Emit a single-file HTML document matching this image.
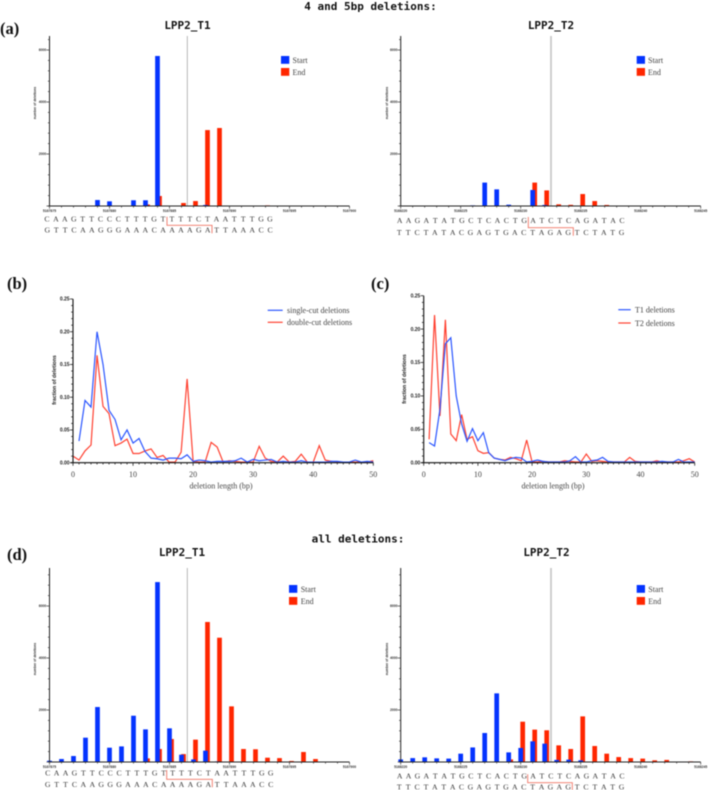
<!DOCTYPE html>
<html lang="en">
<head>
<meta charset="utf-8">
<title>LPP2 deletions</title>
<style>
html,body{margin:0;padding:0;background:#fff;}
body{width:709px;height:790px;overflow:hidden;}
svg{display:block;filter:blur(0.5px);}
.head{font-family:"DejaVu Sans Mono","Liberation Mono",monospace;font-weight:700;font-size:11px;fill:#111;}
.tag{font-family:"Liberation Serif",serif;font-weight:700;font-size:16.5px;fill:#111;}
.leg{font-family:"Liberation Serif",serif;font-size:8px;fill:#444;}
.seq{font-family:"Liberation Serif",serif;font-size:7.8px;fill:#3a3a3a;text-anchor:middle;}
.xl{font-family:"Liberation Serif",serif;font-size:8px;fill:#444;}
.tiny{font-family:"Liberation Sans",sans-serif;font-size:3.4px;fill:#333;font-weight:700;}
.ytick{font-family:"Liberation Sans",sans-serif;font-size:5px;font-weight:700;fill:#222;}
.ytitle{font-family:"Liberation Sans",sans-serif;font-size:5.2px;font-weight:700;fill:#222;}
</style>
</head>
<body>
<svg id="fig" xmlns="http://www.w3.org/2000/svg" width="709" height="790" viewBox="0 0 709 790">
<rect x="0" y="0" width="709" height="790" fill="#fff"/>

<text class="head" x="370.5" y="10" text-anchor="middle">4 and 5bp deletions:</text>
<text class="head" x="358" y="542.5" text-anchor="middle">all deletions:</text>

<text class="head" x="187.5" y="29" text-anchor="middle">LPP2_T1</text>
<text class="head" x="551" y="29" text-anchor="middle">LPP2_T2</text>
<text class="head" x="182" y="556" text-anchor="middle">LPP2_T1</text>
<text class="head" x="546.5" y="556" text-anchor="middle">LPP2_T2</text>

<text class="tag" x="0" y="34">(a)</text>
<text class="tag" x="7" y="289">(b)</text>
<text class="tag" x="371" y="289">(c)</text>
<text class="tag" x="7" y="560">(d)</text>

<g id="chart-a1"></g>
<g id="chart-a2"></g>
<g id="chart-b"></g>
<g id="chart-c"></g>
<g id="chart-d1"></g>
<g id="chart-d2"></g>

<!-- legends -->
<g>
<rect x="281" y="56" width="8.3" height="7.8" fill="#0433ff"/><text class="leg" x="292.5" y="63">Start</text>
<rect x="281" y="68" width="8.3" height="7.8" fill="#ff2600"/><text class="leg" x="292.5" y="75">End</text>
</g>
<g>
<rect x="636.7" y="56" width="8.3" height="7.8" fill="#0433ff"/><text class="leg" x="648" y="63">Start</text>
<rect x="636.7" y="68" width="8.3" height="7.8" fill="#ff2600"/><text class="leg" x="648" y="75">End</text>
</g>
<g>
<rect x="289" y="585" width="8.3" height="7.8" fill="#0433ff"/><text class="leg" x="300.7" y="592">Start</text>
<rect x="289" y="597" width="8.3" height="7.8" fill="#ff2600"/><text class="leg" x="300.7" y="604">End</text>
</g>
<g>
<rect x="636.7" y="585" width="8.3" height="7.8" fill="#0433ff"/><text class="leg" x="648.3" y="592">Start</text>
<rect x="636.7" y="597" width="8.3" height="7.8" fill="#ff2600"/><text class="leg" x="648.3" y="604">End</text>
</g>
<g>
<line x1="267.7" x2="282.7" y1="310.3" y2="310.3" stroke="#2a55ff" stroke-width="1.2"/><text class="leg" x="287" y="313">single-cut deletions</text>
<line x1="267.7" x2="282.7" y1="322.3" y2="322.3" stroke="#ff4030" stroke-width="1.2"/><text class="leg" x="287" y="325">double-cut deletions</text>
</g>
<g>
<line x1="618.3" x2="630.7" y1="309.7" y2="309.7" stroke="#2a55ff" stroke-width="1.2"/><text class="leg" x="635" y="312.5">T1 deletions</text>
<line x1="618.3" x2="630.7" y1="323" y2="323" stroke="#ff4030" stroke-width="1.2"/><text class="leg" x="635" y="325.8">T2 deletions</text>
</g>

<!-- sequences -->
<text class="seq" data-x0="47" data-dx="8.92" y="221.3">CAAGTTCCCTTTGTTTTCTAATTTGG</text>
<text class="seq" data-x0="47.3" data-dx="8.91" y="232.7">GTTCAAGGGAAACAAAAGATTAAACC</text>
<text class="seq" data-x0="399.7" data-dx="8.89" y="223">AAGATATGCTCACTGATCTCAGATAC</text>
<text class="seq" data-x0="399.3" data-dx="8.89" y="235">TTCTATACGAGTGACTAGAGTCTATG</text>
<text class="seq" data-x0="47.7" data-dx="8.92" y="775.6">CAAGTTCCCTTTGTTTTCTAATTTGG</text>
<text class="seq" data-x0="47.7" data-dx="8.92" y="787">GTTCAAGGGAAACAAAAGATTAAACC</text>
<text class="seq" data-x0="399.7" data-dx="8.89" y="778.3">AAGATATGCTCACTGATCTCAGATAC</text>
<text class="seq" data-x0="399.3" data-dx="8.89" y="789.6">TTCTATACGAGTGACTAGAGTCTATG</text>

<!-- target-site brackets -->
<polyline points="167,216.7 167,225.3 212,225.3 212,233.3" fill="none" stroke="#f07565" stroke-width="0.9"/>
<polyline points="528.3,217 528.3,227.7 573.3,227.7 573.3,235.7" fill="none" stroke="#f07565" stroke-width="0.9"/>
<polyline points="166.7,770 166.7,779.3 212.3,779.3 212.3,787.3" fill="none" stroke="#f07565" stroke-width="0.9"/>
<polyline points="527.7,774.3 527.7,782.7 572.3,782.7 572.3,790" fill="none" stroke="#f07565" stroke-width="0.9"/>
</svg>

<script>
// ---- bar chart data (deletion counts per genomic position, index 0-25) ----
const a1Start = [0,0,0,0,230,180,0,220,220,5770,0,0,0,40,0,0,0,0,0,0,0,0,0,0,0,0];
const a1End   = [0,0,0,0,0,0,0,0,60,385,0,115,190,2920,3000,0,0,0,25,0,0,0,0,0,0,0];
const a2Start = [0,0,0,0,0,0,25,900,640,50,0,615,40,0,0,0,0,0,0,0,0,0,0,0,0,0];
const a2End   = [0,0,0,0,0,0,0,0,0,0,0,900,600,65,45,460,190,40,0,15,0,0,0,0,0,0];
const d1Start = [50,115,230,935,2115,550,600,1780,1255,6920,1295,280,100,435,25,0,0,15,0,0,0,0,0,0,0,0];
const d1End   = [0,0,0,0,0,0,0,25,140,500,885,305,860,5385,4780,2140,500,490,165,150,40,385,115,0,15,0];
const d2Start = [100,150,180,140,130,320,560,1115,2640,370,540,795,705,80,90,65,0,15,0,0,0,0,0,0,0,0];
const d2End   = [0,0,0,0,0,0,0,0,0,100,1550,1245,1220,640,500,1755,615,320,190,150,130,65,80,15,25,0];
const barTicksY = [0,2000,4000,6000];
const leftPosLabels  = ["5167875","5167880","5167885","5167890","5167895","5167900"];
const rightPosLabels = ["5168220","5168225","5168230","5168235","5168240","5168245"];

// ---- line chart data (fraction of deletions by deletion length) ----
const lengthTicks = [0,10,20,30,40,50];
const fractionTicks = ["0.00","0.05","0.10","0.15","0.20","0.25"];
const singleCutLengths = [1,2,3,4,5,6,7,8,9,10,11,12,13,14,15,16,17,18,19,20,21,22,23,24,25,26,27,28,29,30,31,32,33,34,35,36,37,38,39,40,41,42,43,44,45,46,47,48,49,50];
const singleCut = [.033,.095,.085,.2,.15,.08,.066,.035,.05,.03,.037,.017,.007,.006,.004,.007,.007,.006,.012,.002,.004,.003,.001,.002,.002,.002,.003,.007,.001,.005,.003,.004,.005,.001,.002,.001,.001,.003,.001,.001,.001,.001,.002,.002,.001,.001,.004,.001,.002,.001];
const doubleCutLengths = [0,1,2,3,4,5,6,7,8,9,10,11,12,13,14,15,16,17,18,19,20,21,22,23,24,25,26,27,28,29,30,31,32,33,34,35,36,37,38,39,40,41,42,43,44,45,46,47,48,49,50];
const doubleCut = [.01,.004,.018,.027,.164,.086,.075,.026,.03,.036,.014,.014,.018,.021,.008,.011,.001,.001,.016,.128,.002,.001,.001,.031,.024,.001,.003,.002,.001,.001,.001,.025,.007,.002,.001,.01,.001,.002,.013,.001,.001,.026,.004,.002,.001,.001,.001,.001,.001,.001,.003];
const t1Deletions = [.03,.025,.08,.178,.187,.1,.058,.032,.051,.033,.045,.015,.007,.005,.003,.006,.008,.007,.001,.002,.004,.002,.001,.001,.001,.001,.003,.009,.001,.001,.003,.004,.008,.002,.001,.001,.001,.001,.001,.001,.001,.001,.001,.002,.001,.001,.005,.001,.001,.001];
const t2Deletions = [.035,.221,.07,.214,.043,.033,.072,.035,.039,.018,.014,.015,.007,.005,.004,.008,.006,.003,.034,.001,.001,.002,.001,.001,.001,.003,.002,.001,.001,.013,.002,.003,.002,.001,.001,.001,.001,.008,.002,.001,.001,.001,.003,.001,.001,.001,.001,.003,.006,.001];

const NS = "http://www.w3.org/2000/svg";
function mk(parent, tag, attrs, txt) {
  const el = document.createElementNS(NS, tag);
  for (const k in attrs) el.setAttribute(k, attrs[k]);
  if (txt !== undefined) el.textContent = txt;
  parent.appendChild(el);
  return el;
}

function drawBarChart(id, c, starts, ends, posLabels) {
  const g = document.getElementById(id);
  const xOf = i => c.x0 + 12 * i;
  const yOf = v => c.base - v * 0.026;
  const barW = 4.7;

  const cut = mk(g, "line", {x1:c.cut, x2:c.cut, y1:c.top, y2:c.base, stroke:c.cutColor, "stroke-width":c.cutW});
  
  

  ends.forEach((v, i) => {
    if (!v) return;
    const r = mk(g, "rect", {x:xOf(i) + 2 - barW/2, y:yOf(v), width:barW, height:c.base - yOf(v), fill:"#ff2600"});
    
    
  });
  starts.forEach((v, i) => {
    if (!v) return;
    const r = mk(g, "rect", {x:xOf(i) - barW/2, y:yOf(v), width:barW, height:c.base - yOf(v), fill:"#0433ff"});
    
    
  });

  const yAxis = mk(g, "line", {x1:c.x0, x2:c.x0, y1:c.top, y2:c.base + 0.5, stroke:"#222", "stroke-width":1});
  
  
  const xAxis = mk(g, "line", {x1:c.x0 - 1.5, x2:xOf(25), y1:c.base, y2:c.base, stroke:"#222", "stroke-width":1});
  
  

  for (let v = 0; yOf(v) >= c.top; v += 400) {
    const major = v % 2000 === 0;
    mk(g, "line", {x1:c.x0 - (major ? 3 : 1.6), x2:c.x0, y1:yOf(v), y2:yOf(v), stroke:"#333", "stroke-width":0.7});
  }
  barTicksY.forEach(v => {
    if (v === 0) return;
    const t = mk(g, "text", {class:"tiny", x:c.x0 - 3.2, y:yOf(v) + 1.2, "text-anchor":"end"}, String(v));
    
    
  });
  for (let i = 0; i <= 25; i++) {
    mk(g, "line", {x1:xOf(i), x2:xOf(i), y1:c.base, y2:c.base + (i % 5 === 0 ? 2.6 : 1.6), stroke:"#333", "stroke-width":0.7});
  }
  posLabels.forEach((lab, k) => {
    const t = mk(g, "text", {class:"tiny", x:xOf(k * 5), y:c.base + 6, "text-anchor":"middle"}, lab);
    
    
  });
  const ty = c.titleY;
  const title = mk(g, "text", {class:"tiny", x:c.titleX, y:ty, "text-anchor":"middle", transform:"rotate(-90 " + c.titleX + " " + ty + ")"}, "number of deletions");
  
  
}

function drawLineChart(id, c, blueXs, blue, redXs, red) {
  const g = document.getElementById(id);
  const xOf = v => c.x0 + (c.x1 - c.x0) * v / 50;
  const yOf = v => c.base - (c.base - c.top) * v / 0.25;

  const pathFor = (xs, ys) => xs.map((x, i) => xOf(x).toFixed(2) + "," + yOf(ys[i]).toFixed(2)).join(" ");
  const redLine = mk(g, "polyline", {points:pathFor(redXs, red), fill:"none", stroke:"#ff4030", "stroke-width":1.2});
  
  
  const blueLine = mk(g, "polyline", {points:pathFor(blueXs, blue), fill:"none", stroke:"#2a55ff", "stroke-width":1.2});
  
  

  const yAxis = mk(g, "line", {x1:c.x0, x2:c.x0, y1:c.top, y2:c.base + 0.5, stroke:"#111", "stroke-width":1.1});
  
  
  const xAxis = mk(g, "line", {x1:c.x0 - 2.5, x2:c.x1, y1:c.base, y2:c.base, stroke:"#111", "stroke-width":1.1});
  
  

  for (let k = 0; k <= 25; k++) {
    const v = k / 100;
    mk(g, "line", {x1:c.x0 - (k % 5 === 0 ? 3 : 1.8), x2:c.x0, y1:yOf(v), y2:yOf(v), stroke:"#222", "stroke-width":0.8});
  }
  for (let k = 0; k <= 50; k++) {
    mk(g, "line", {x1:xOf(k), x2:xOf(k), y1:c.base, y2:c.base + (k % 10 === 0 ? 3 : 1.8), stroke:"#222", "stroke-width":0.8});
  }
  fractionTicks.forEach(lab => {
    const t = mk(g, "text", {class:"ytick", x:c.x0 - 3.4, y:yOf(parseFloat(lab)) + 1.7, "text-anchor":"end"}, lab);
    
    
  });
  lengthTicks.forEach(v => {
    const t = mk(g, "text", {class:"xl", x:xOf(v), y:c.base + 14.5, "text-anchor":"middle"}, String(v));
    
    
  });
  const xt = mk(g, "text", {class:"xl", x:c.xTitleX, y:488.7, "text-anchor":"middle"}, "deletion length (bp)");
  
  
  const yt = mk(g, "text", {class:"ytitle", x:c.yTitleX, y:c.yTitleY, "text-anchor":"middle", transform:"rotate(-90 " + c.yTitleX + " " + c.yTitleY + ")"}, "fraction of deletions");
  
  
}

drawBarChart("chart-a1", {x0:49.5, base:206, top:36, cut:187.3, cutColor:"#999", cutW:0.7, titleX:36, titleY:103}, a1Start, a1End, leftPosLabels);
drawBarChart("chart-a2", {x0:400.7, base:206, top:36, cut:551, cutColor:"#c4c4c4", cutW:1.6, titleX:388, titleY:103}, a2Start, a2End, rightPosLabels);
drawBarChart("chart-d1", {x0:49.5, base:762, top:568, cut:187.3, cutColor:"#999", cutW:0.7, titleX:36, titleY:659}, d1Start, d1End, leftPosLabels);
drawBarChart("chart-d2", {x0:400.7, base:762, top:568, cut:551, cutColor:"#c4c4c4", cutW:1.6, titleX:388, titleY:659}, d2Start, d2End, rightPosLabels);
drawLineChart("chart-b", {x0:73, x1:373.3, base:462.7, top:299, xTitleX:221, yTitleX:56, yTitleY:380}, singleCutLengths, singleCut, doubleCutLengths, doubleCut);
drawLineChart("chart-c", {x0:423.7, x1:694.7, base:462.7, top:295.7, xTitleX:553, yTitleX:406, yTitleY:379}, singleCutLengths, t1Deletions, singleCutLengths, t2Deletions);

document.querySelectorAll(".seq").forEach(t => {
  const x0 = parseFloat(t.getAttribute("data-x0"));
  const dx = parseFloat(t.getAttribute("data-dx"));
  const xs = Array.from(t.textContent).map((ch, i) => (x0 + dx * i).toFixed(2));
  t.setAttribute("x", xs.join(" "));
});
</script>
</body>
</html>
